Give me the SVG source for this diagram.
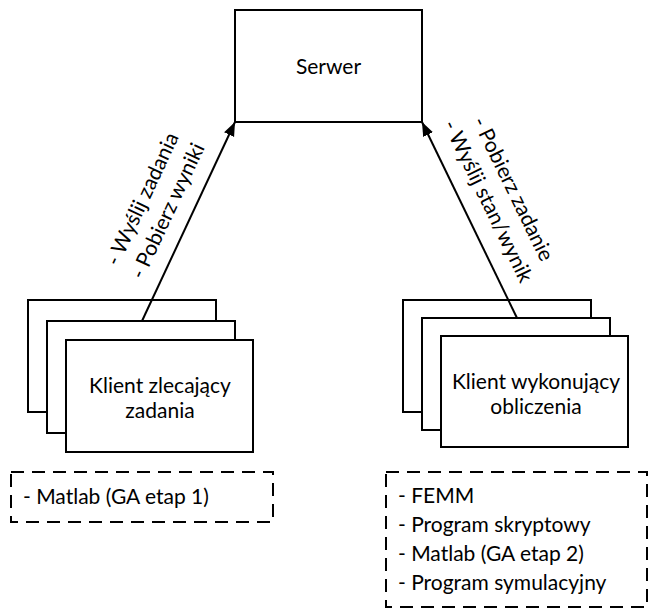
<svg xmlns="http://www.w3.org/2000/svg" width="650" height="609" viewBox="0 0 650 609">
<style>
.box{fill:#fff;stroke:#000;stroke-width:2}
.dash{fill:none;stroke:#000;stroke-width:2;stroke-dasharray:13 8}
.t{font-family:Lato,"Liberation Sans",sans-serif;font-size:21px;fill:#000}
.c{text-anchor:middle}
.conn{stroke:#000;stroke-width:2;fill:none;marker-end:url(#arr)}
</style>
<defs>
<marker id="arr" markerUnits="userSpaceOnUse" markerWidth="16" markerHeight="12" refX="14" refY="6" orient="auto" viewBox="0 0 16 12">
<path d="M0,0.5 L14,6 L0,11.5 z" fill="#000"/>
</marker>
</defs>
<rect width="650" height="609" fill="#fff"/>
<g id="serwer">
<rect class="box" x="235" y="10" width="187" height="112"/>
<text class="t c" x="328.5" y="74">Serwer</text>
</g>
<g id="klient-zlecajacy">
<rect class="box" x="28" y="300" width="188" height="112"/>
<rect class="box" x="47" y="321" width="188" height="112"/>
<rect class="box" x="66" y="340" width="187" height="112"/>
<text class="t c" x="160" y="393">Klient zlecający</text>
<text class="t c" x="160" y="418">zadania</text>
</g>
<g id="klient-wykonujacy">
<rect class="box" x="403" y="300" width="188" height="112"/>
<rect class="box" x="422" y="318" width="188" height="112"/>
<rect class="box" x="441" y="336" width="187" height="111"/>
<text class="t c" x="536" y="389">Klient wykonujący</text>
<text class="t c" x="536" y="414">obliczenia</text>
</g>
<g id="programy-zlecajace">
<rect class="dash" x="11" y="472" width="262" height="50"/>
<text class="t" x="23" y="504">- Matlab (GA etap 1)</text>
</g>
<g id="programy-wykonujace">
<rect class="dash" x="386" y="472" width="261" height="135"/>
<text class="t" x="398" y="503">- FEMM</text>
<text class="t" x="398" y="532">- Program skryptowy</text>
<text class="t" x="398" y="561">- Matlab (GA etap 2)</text>
<text class="t" x="398" y="590">- Program symulacyjny</text>
</g>
<g id="connectors">
<line class="conn" x1="142" y1="321" x2="235" y2="122"/>
<line class="conn" x1="517" y1="318" x2="422" y2="122"/>
<g transform="translate(155,205) rotate(-65)">
<text class="t c" x="0" y="-7">- Wyślij zadania</text>
<text class="t c" x="0" y="21">- Pobierz wyniki</text>
</g>
<g transform="translate(500.5,195) rotate(64)">
<text class="t c" x="0" y="-7">- Pobierz zadanie</text>
<text class="t c" x="0" y="21">- Wyślij stan/wynik</text>
</g>
</g>
</svg>
